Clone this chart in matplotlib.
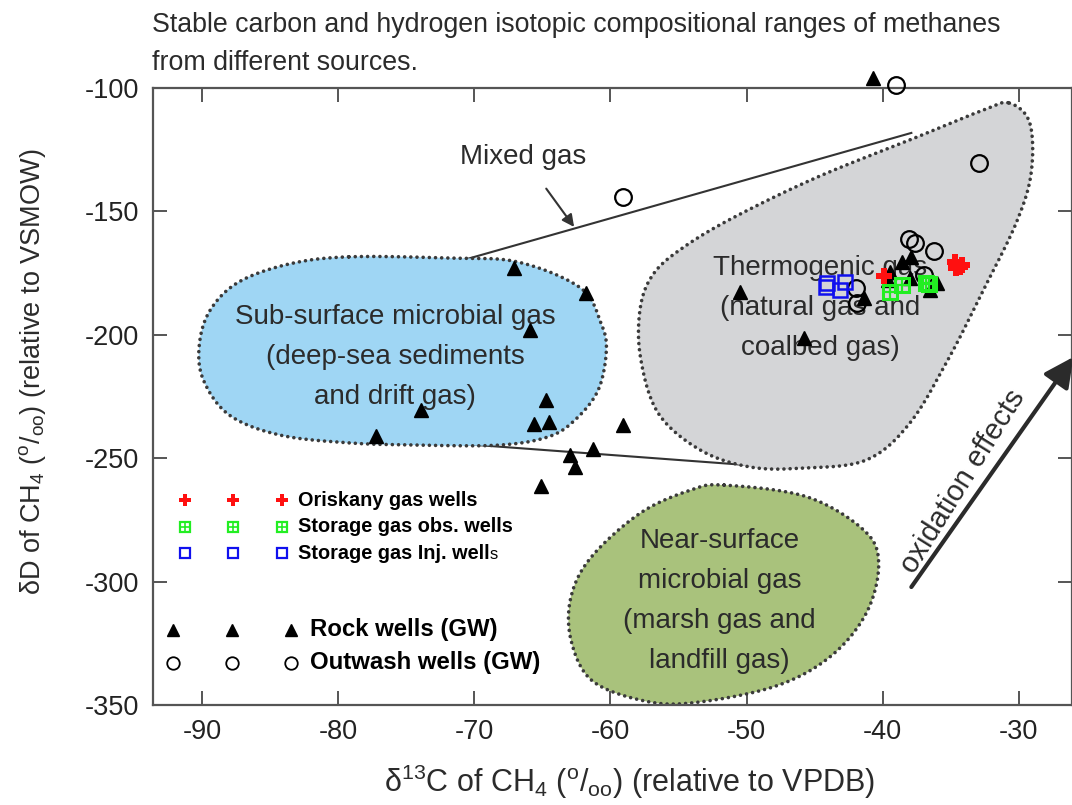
import numpy as np
import matplotlib
matplotlib.use('Agg')
from matplotlib import pyplot as plt

SANS = ['Liberation Sans', 'DejaVu Sans']

plt.rcParams['font.family'] = SANS
plt.rcParams['mathtext.default'] = 'regular'
plt.rcParams['axes.unicode_minus'] = False

# groundwater samples (d13C, dD)
rock_x = [-40.7, -67.1, -61.8, -65.9, -73.9, -77.2, -64.7, -65.6, -64.5, -59.1, -63.0,
          -61.3, -62.6, -65.1, -50.5, -45.8, -41.4, -38.6, -37.9, -39.45, -38.0, -36.5,
          -36.05, -39.6]
rock_y = [-95.9, -172.9, -183.1, -198.1, -230.5, -241.0, -226.4, -236.1, -235.3, -236.5,
          -248.7, -246.3, -253.4, -261.3, -182.5, -201.4, -185.2, -170.4, -168.4, -174.4,
          -177.1, -181.8, -179.1, -177.8]
outwash_x = [-39.0, -32.9, -59.1, -38.1, -37.6, -36.2, -41.95, -41.9, -37.0]
outwash_y = [-98.8, -130.5, -144.3, -161.3, -162.9, -166.0, -181.2, -187.2, -175.8]

# gas wells
oriskany_x = [-39.9, -34.7, -34.2, -34.6, -34.3]
oriskany_y = [-176.2, -170.4, -171.7, -173.1, -172.5]
obs_x = [-38.6, -39.45, -36.8, -36.6]
obs_y = [-179.8, -182.5, -178.9, -179.5]
inj_x = [-44.1, -42.75, -43.15, -44.2]
inj_y = [-179.1, -178.5, -181.8, -180.5]

# source fields (outline points)
sub_x = [-79.2, -71.9, -66.8, -62.2, -60.7, -60.3, -60.9, -62.6, -64.6, -68.2, -74.1,
         -79.2, -84.3, -88.0, -89.9, -90.2, -89.4, -87.3, -83.6]
sub_y = [-168.4, -168.9, -170.5, -181.0, -195.2, -206.2, -222.4, -234.5, -241.4, -244.7,
         -244.7, -243.8, -240.6, -232.5, -218.3, -204.1, -190.0, -178.6, -171.3]
thermo_x = [-30.7, -29.2, -29.1, -30.2, -32.6, -35.1, -38.0, -41.2, -45.8, -49.7, -53.4,
            -56.5, -57.8, -57.8, -56.8, -54.6, -50.9, -44.8, -37.5, -32.6]
thermo_y = [-106.1, -114.2, -134.5, -154.7, -181.8, -209.0, -235.7, -250.7, -254.0, -253.6,
            -246.7, -231.7, -209.0, -188.7, -175.0, -164.4, -152.3, -136.1, -119.9, -108.9]
near_x = [-51.65, -45.6, -41.4, -40.3, -41.2, -43.9, -48.0, -54.1, -57.8, -61.4, -62.9,
          -62.9, -61.4, -57.8, -54.1]
near_y = [-260.9, -265.6, -279.1, -292.5, -312.7, -330.6, -342.6, -349.2, -348.0, -339.9,
          -323.7, -306.2, -290.0, -272.2, -262.9]

mix_upper_x = [-70.8, -37.9]
mix_upper_y = [-169.7, -118.2]
mix_lower_x = [-71.9, -47.0]
mix_lower_y = [-243.8, -254.0]


def smooth_closed(xs, ys, n=30):
    pts = np.column_stack([xs, ys])
    m = len(pts)
    t = np.linspace(0, 1, n, endpoint=False)[:, None]
    segs = []
    for i in range(m):
        p0, p1, p2, p3 = pts[i - 1], pts[i], pts[(i + 1) % m], pts[(i + 2) % m]
        segs.append(0.5 * (2 * p1 + (-p0 + p2) * t + (2 * p0 - 5 * p1 + 4 * p2 - p3) * t ** 2
                           + (-p0 + 3 * p1 - 3 * p2 + p3) * t ** 3))
    out = np.vstack(segs)
    return np.vstack([out, out[:1]])


fig = plt.figure(figsize=(10.72, 8.05), dpi=100)
ax = fig.add_axes([153 / 1072, 100 / 805, 919 / 1072, 617 / 805])
ax.set_xlim(-93.6, -26.1)
ax.set_ylim(-350, -100)

ax.plot(mix_upper_x, mix_upper_y, color='#333333', lw=1.5, zorder=1)
ax.plot(mix_lower_x, mix_lower_y, color='#333333', lw=1.5, zorder=1)

for xs, ys, fc in [(sub_x, sub_y, '#9fd6f4'), (thermo_x, thermo_y, '#d4d5d7'),
                   (near_x, near_y, '#a9c27c')]:
    cx, cy = smooth_closed(xs, ys).T
    ax.fill(cx, cy, color=fc, zorder=2, lw=0)
    ax.plot(cx, cy, color='#3a3a3a', lw=2.6, ls=(0, (0.01, 1.7)),
            dash_capstyle='round', zorder=2.1)

txt = dict(ha='center', va='center', fontsize=20, color='#2b2b2b', linespacing=1.7, zorder=3)
ax.text(-75.8, -209.0, 'Sub-surface microbial gas\n(deep-sea sediments\nand drift gas)', **txt)
ax.text(-44.6, -189.1, 'Thermogenic gas\n(natural gas and\ncoalbed gas)', **txt)
ax.text(-52.0, -307.9, 'Near-surface\nmicrobial gas\n(marsh gas and\nlandfill gas)', **txt)

ax.annotate('Mixed gas', xy=(-62.67, -156.3), xytext=(-66.4, -128.0), ha='center', va='center',
            fontsize=20, color='#2b2b2b',
            arrowprops=dict(arrowstyle='-|>', color='#333333', lw=1.5, mutation_scale=18,
                            shrinkA=14, shrinkB=0))
ax.annotate('', xy=(-26.0, -209.0), xytext=(-37.9, -302.2), annotation_clip=False,
            arrowprops=dict(arrowstyle='-|>', color='#2b2b2b', lw=3, mutation_scale=45,
                            shrinkA=0, shrinkB=0))
ax.text(-34.1, -259.6, 'oxidation effects', rotation=58, ha='center', va='center',
        fontsize=21, color='#2b2b2b', rotation_mode='anchor')

ax.plot(rock_x, rock_y, '^', ms=10, color='black', ls='none', clip_on=False, zorder=4)
ax.plot(outwash_x, outwash_y, 'o', ms=12, mfc='none', mec='black', mew=1.6, ls='none',
        clip_on=False, zorder=4)
ax.plot(inj_x, inj_y, 's', ms=10, mfc='none', mec='#1010ee', mew=1.8, ls='none', zorder=5)
ax.plot(obs_x, obs_y, 's', ms=10, mfc='none', mec='#22ee22', mew=2.2, ls='none', zorder=5)
ax.plot(obs_x, obs_y, '+', ms=10, mec='#22ee22', mew=1.6, ls='none', zorder=5)
ax.plot(oriskany_x, oriskany_y, 'P', ms=11, color='#ff1010', mew=0, ls='none', zorder=6)

# legend drawn by hand, as in the original
tr = ax.transAxes
for xm in [0.0348, 0.0874, 0.1407]:
    ax.plot(xm, 0.332, 'P', ms=8.5, color='#ff1010', mew=0, transform=tr)
    ax.plot(xm, 0.289, 's', ms=7, mfc='none', mec='#22ee22', mew=1.6, transform=tr)
    ax.plot(xm, 0.289, '+', ms=7, mec='#22ee22', mew=1.2, transform=tr)
    ax.plot(xm, 0.246, 's', ms=7, mfc='none', mec='#1010ee', mew=1.6, transform=tr)
for xm in [0.0214, 0.0856, 0.1498]:
    ax.plot(xm, 0.1216, '^', ms=8, color='black', transform=tr)
    ax.plot(xm, 0.0686, 'o', ms=9, mfc='none', mec='black', mew=1.3, transform=tr)
leg = dict(transform=tr, va='center', ha='left', fontweight='bold', color='black')
ax.text(0.158, 0.332, 'Oriskany gas wells', fontsize=14.3, **leg)
ax.text(0.158, 0.289, 'Storage gas obs. wells', fontsize=14.3, **leg)
inj = ax.text(0.158, 0.246, 'Storage gas Inj. well', fontsize=14.3, **leg)
ax.annotate('s', xy=(1, 0.2), xycoords=inj, ha='left', va='baseline', fontsize=12, color='black')
ax.text(0.1708, 0.1216, 'Rock wells (GW)', fontsize=17.3, **leg)
ax.text(0.1708, 0.0686, 'Outwash wells (GW)', fontsize=17.3, **leg)

ax.set_xticks(range(-90, -25, 10))
ax.set_yticks(range(-350, -99, 50))
ax.tick_params(direction='in', length=10, width=1.4, color='#555555', labelsize=19.5,
               top=True, right=True, pad=10, labelcolor='#222222')
for s in ax.spines.values():
    s.set_color('#555555')
    s.set_linewidth(1.6)

fig.text(152 / 1072, 1 - 12 / 805, 'Stable carbon and hydrogen isotopic compositional ranges of methanes\n'
         'from different sources.', ha='left', va='top', fontsize=19.3, color='#2b2b2b',
         linespacing=1.62)
fig.text(630 / 1072, 1 - 782 / 805, 'δ$^{13}$C of CH$_4$ ($^{o}$/$_{oo}$) (relative to VPDB)',
         ha='center', va='center', fontsize=22, color='#2b2b2b')
fig.text(33 / 1072, 1 - 372 / 805, 'δD of CH$_4$ ($^{o}$/$_{oo}$) (relative to VSMOW)',
         ha='center', va='center', rotation=90, fontsize=19.5, color='#2b2b2b')

fig.savefig('out.png', dpi=100)
